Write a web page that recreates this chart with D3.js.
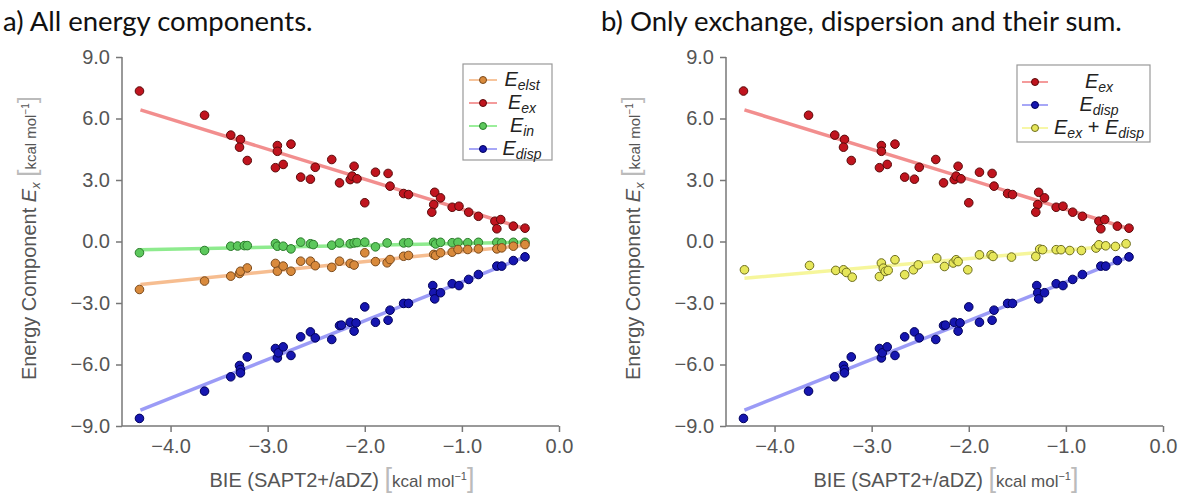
<!DOCTYPE html>
<html>
<head>
<meta charset="utf-8">
<script src="https://cdn.jsdelivr.net/npm/d3@7"></script>
<style>
  body { margin: 0; background: #fff; }
  svg { display: block; }
  .tick text { font-family: "Liberation Sans", Arial, sans-serif; fill: #555; }
</style>
</head>
<body>
<svg id="chart" width="1179" height="493"></svg>
<script>
// ---- data ----
const xTicks = [-4, -3, -2, -1, 0];
const yTicks = [-9, -6, -3, 0, 3, 6, 9];

const exPts = [[-4.32,7.34],[-3.65,6.16],[-3.38,5.19],[-3.28,4.98],[-3.29,4.60],[-3.21,3.95],[-2.90,4.68],[-2.90,4.40],
  [-2.92,3.60],[-2.84,3.76],[-2.76,4.75],[-2.66,3.14],[-2.56,3.04],[-2.51,3.62],[-2.34,4.00],[-2.26,2.86],[-2.15,3.02],
  [-2.11,3.67],[-2.13,3.19],[-2.08,3.06],[-2.00,1.89],[-1.89,3.38],[-1.76,3.32],[-1.74,2.70],[-1.60,2.34],[-1.55,2.29],
  [-1.28,2.40],[-1.22,2.13],[-1.29,1.80],[-1.31,1.43],[-1.10,1.67],[-1.03,1.72],[-0.93,1.43],[-0.83,1.23],[-0.66,0.99],
  [-0.60,1.07],[-0.64,0.62],[-0.47,0.75],[-0.35,0.65]];

const dispPts = [[-4.32,-8.63],[-3.65,-7.30],[-3.38,-6.60],[-3.29,-6.05],[-3.28,-6.24],[-3.28,-6.41],[-3.21,-5.63],
  [-2.92,-5.22],[-2.90,-5.68],[-2.89,-5.43],[-2.84,-5.14],[-2.76,-5.56],[-2.66,-4.65],[-2.56,-4.41],[-2.51,-4.70],
  [-2.34,-4.78],[-2.26,-4.10],[-2.24,-4.08],[-2.15,-3.94],[-2.11,-4.37],[-2.09,-3.97],[-2.00,-3.19],[-1.89,-3.94],
  [-1.76,-3.84],[-1.74,-3.35],[-1.60,-3.02],[-1.55,-3.02],[-1.30,-2.15],[-1.29,-2.50],[-1.28,-2.80],[-1.22,-2.50],
  [-1.10,-2.06],[-1.03,-2.15],[-0.93,-1.85],[-0.83,-1.61],[-0.64,-1.20],[-0.59,-1.20],[-0.47,-0.93],[-0.35,-0.75]];

const indPts = [[-4.32,-0.55],[-3.65,-0.44],[-3.38,-0.23],[-3.31,-0.22],[-3.24,-0.20],[-3.21,-0.20],[-2.92,-0.10],
  [-2.90,-0.23],[-2.84,-0.23],[-2.76,-0.36],[-2.66,-0.03],[-2.56,-0.11],[-2.53,-0.15],[-2.34,-0.18],[-2.26,-0.07],
  [-2.15,-0.11],[-2.11,-0.07],[-2.08,-0.05],[-2.00,-0.03],[-1.89,-0.26],[-1.77,-0.07],[-1.60,-0.07],[-1.55,-0.06],
  [-1.29,-0.04],[-1.27,-0.12],[-1.22,-0.04],[-1.10,-0.06],[-1.04,-0.04],[-0.94,-0.06],[-0.83,-0.04],[-0.64,-0.04],
  [-0.59,-0.06],[-0.47,-0.04],[-0.35,-0.04]];

const elstPts = [[-4.32,-2.34],[-3.65,-1.93],[-3.38,-1.69],[-3.29,-1.56],[-3.28,-1.45],[-3.21,-1.29],[-2.92,-1.07],
  [-2.90,-1.45],[-2.84,-1.20],[-2.76,-1.45],[-2.66,-0.96],[-2.56,-0.96],[-2.51,-1.18],[-2.34,-1.26],[-2.26,-0.96],
  [-2.15,-1.07],[-2.11,-1.15],[-2.00,-0.55],[-1.89,-0.98],[-1.77,-1.04],[-1.74,-0.88],[-1.60,-0.72],[-1.55,-0.68],
  [-1.29,-0.63],[-1.27,-0.68],[-1.22,-0.55],[-1.10,-0.52],[-1.04,-0.39],[-0.94,-0.39],[-0.83,-0.36],[-0.64,-0.36],
  [-0.59,-0.31],[-0.47,-0.23],[-0.35,-0.15]];

const sumPts = [[-4.31,-1.38],[-3.64,-1.17],[-3.37,-1.41],[-3.29,-1.38],[-3.26,-1.51],[-3.20,-1.74],[-2.92,-1.71],
  [-2.90,-1.05],[-2.88,-1.30],[-2.86,-1.46],[-2.83,-1.41],[-2.76,-0.89],[-2.66,-1.62],[-2.57,-1.38],[-2.52,-1.14],
  [-2.33,-0.81],[-2.25,-1.22],[-2.16,-1.05],[-2.13,-0.89],[-2.11,-0.98],[-2.01,-1.38],[-1.89,-0.65],[-1.77,-0.65],
  [-1.75,-0.73],[-1.56,-0.76],[-1.31,-0.73],[-1.27,-0.37],[-1.24,-0.40],[-1.10,-0.40],[-1.05,-0.40],[-0.96,-0.44],
  [-0.84,-0.44],[-0.69,-0.32],[-0.66,-0.16],[-0.59,-0.21],[-0.49,-0.24],[-0.38,-0.11]];

// fitted trend lines (end points)
const fitEx   = [[-4.31, 6.42], [-0.35, 0.62]];
const fitDisp = [[-4.31, -8.23], [-0.35, -0.75]];
const fitInd  = [[-4.31, -0.40], [-0.35, -0.03]];
const fitElst = [[-4.31, -2.10], [-0.35, -0.18]];
const fitSum  = [[-4.31, -1.79], [-0.35, -0.15]];

const series = {
  elst: { pts: elstPts, fit: fitElst, fill: "#d98a3c", stroke: "#7a4a1c", line: "#f5b27c", sub: "elst" },
  ex:   { pts: exPts,   fit: fitEx,   fill: "#c0141e", stroke: "#5a0a0a", line: "#f07a7a", sub: "ex" },
  ind:  { pts: indPts,  fit: fitInd,  fill: "#5cc85c", stroke: "#2a7a2a", line: "#7ae87a", sub: "in" },
  disp: { pts: dispPts, fit: fitDisp, fill: "#1616b0", stroke: "#00005a", line: "#8a8af5", sub: "disp" },
  sum:  { pts: sumPts,  fit: fitSum,  fill: "#e6e65a", stroke: "#6e6e1e", line: "#f5f58a" }
};

const svg = d3.select("#chart");
const fontAx = '"Liberation Sans", Arial, sans-serif';

// titles
svg.append("text").attr("x", 3).attr("y", 31)
  .attr("font-family", 'Lato, "Open Sans", sans-serif').attr("font-size", 27.5).attr("fill", "#111")
  .text("a) All energy components.");
svg.append("text").attr("x", 601).attr("y", 31)
  .attr("font-family", 'Lato, "Open Sans", sans-serif').attr("font-size", 27.5).attr("fill", "#111")
  .text("b) Only exchange, dispersion and their sum.");

function drawPanel(left, order, legend) {
  const x = d3.scaleLinear().domain([-4.5, 0]).range([left, left + 437]);
  const y = d3.scaleLinear().domain([-9, 9]).range([426, 57]);
  const g = svg.append("g");

  // axes
  const xAxis = g.append("g").attr("transform", "translate(0,426)")
    .call(d3.axisBottom(x).tickValues(xTicks).tickFormat(d3.format(".1f")).tickSize(6).tickPadding(7));
  const yAxis = g.append("g").attr("transform", `translate(${left},0)`)
    .call(d3.axisLeft(y).tickValues(yTicks).tickFormat(d3.format(".1f")).tickSize(6).tickPadding(6));
  [xAxis, yAxis].forEach(a => {
    a.select(".domain").attr("stroke", "#777").attr("stroke-width", 1.5);
    a.selectAll(".tick line").attr("stroke", "#777").attr("stroke-width", 1.5);
    a.selectAll(".tick text").attr("font-size", 20);
  });
  // remove outer tick stubs of the domain path
  xAxis.select(".domain").attr("d", `M${left},0H${left + 437}`);
  yAxis.select(".domain").attr("d", `M0,57V426`);

  // fits then points
  order.forEach(k => {
    const s = series[k];
    g.append("line")
      .attr("x1", x(s.fit[0][0])).attr("y1", y(s.fit[0][1]))
      .attr("x2", x(s.fit[1][0])).attr("y2", y(s.fit[1][1]))
      .attr("stroke", s.line).attr("stroke-width", 3.5).attr("stroke-opacity", 0.85);
  });
  order.forEach(k => {
    const s = series[k];
    g.append("g").selectAll("circle").data(s.pts).join("circle")
      .attr("cx", d => x(d[0])).attr("cy", d => y(d[1])).attr("r", 4.3)
      .attr("fill", s.fill).attr("stroke", s.stroke).attr("stroke-width", 1);
  });

  // y label
  const yl = g.append("text").attr("transform", `translate(${left - 86},238) rotate(-90)`)
    .attr("text-anchor", "middle").attr("font-family", fontAx).attr("fill", "#555").attr("font-size", 20);
  yl.append("tspan").text("Energy Component ");
  yl.append("tspan").attr("font-style", "italic").text("E");
  yl.append("tspan").attr("font-style", "italic").attr("font-size", 13).attr("dy", 4).text("x");
  yl.append("tspan").attr("dy", -4).text(" ");
  yl.append("tspan").attr("fill", "#bbb").attr("font-size", 26).text("[");
  yl.append("tspan").attr("font-size", 15).text("kcal mol");
  yl.append("tspan").attr("font-size", 10).attr("dy", -7).text("−1");
  yl.append("tspan").attr("fill", "#bbb").attr("font-size", 26).attr("dy", 7).text("]");

  // x label
  const xl = g.append("text").attr("x", left + 220).attr("y", 487)
    .attr("text-anchor", "middle").attr("font-family", fontAx).attr("fill", "#555").attr("font-size", 20);
  xl.append("tspan").text("BIE (SAPT2+/aDZ) ");
  xl.append("tspan").attr("fill", "#bbb").attr("font-size", 27).text("[");
  xl.append("tspan").attr("font-size", 17).text("kcal mol");
  xl.append("tspan").attr("font-size", 11).attr("dy", -7).text("−1");
  xl.append("tspan").attr("fill", "#bbb").attr("font-size", 27).attr("dy", 7).text("]");

  // legend
  const lg = g.append("g");
  lg.append("rect").attr("x", legend.x).attr("y", legend.y).attr("width", legend.w).attr("height", legend.h)
    .attr("fill", "#fff").attr("stroke", "#999").attr("stroke-width", 1.2);
  legend.items.forEach((k, i) => {
    const s = series[k];
    const cy = legend.y + legend.first + i * legend.step;
    lg.append("line").attr("x1", legend.x + legend.lx0).attr("x2", legend.x + legend.lx1)
      .attr("y1", cy).attr("y2", cy).attr("stroke", s.line).attr("stroke-width", 1.5);
    lg.append("circle").attr("cx", legend.x + (legend.lx0 + legend.lx1) / 2).attr("cy", cy).attr("r", 3.5)
      .attr("fill", s.fill).attr("stroke", s.stroke).attr("stroke-width", 1);
    const t = lg.append("text").attr("x", legend.x + legend.tx).attr("y", cy + 6)
      .attr("text-anchor", "middle").attr("font-family", fontAx).attr("fill", "#222")
      .attr("font-size", 20).attr("font-style", "italic");
    if (k === "sum") {
      t.append("tspan").text("E");
      t.append("tspan").attr("font-size", 14).attr("dy", 4).text("ex");
      t.append("tspan").attr("dy", -4).attr("font-style", "normal").text(" + ");
      t.append("tspan").text("E");
      t.append("tspan").attr("font-size", 14).attr("dy", 4).text("disp");
    } else {
      t.append("tspan").text("E");
      t.append("tspan").attr("font-size", 14).attr("dy", 4).text(s.sub);
    }
  });
}

drawPanel(122, ["ex", "ind", "elst", "disp"],
  { x: 463, y: 64, w: 89, h: 96, first: 16, step: 23, lx0: 6, lx1: 34, tx: 59, items: ["elst", "ex", "ind", "disp"] });
drawPanel(726, ["ex", "disp", "sum"],
  { x: 1017, y: 65, w: 133, h: 77, first: 17, step: 23, lx0: 5, lx1: 31, tx: 82, items: ["ex", "disp", "sum"] });
</script>
</body>
</html>
